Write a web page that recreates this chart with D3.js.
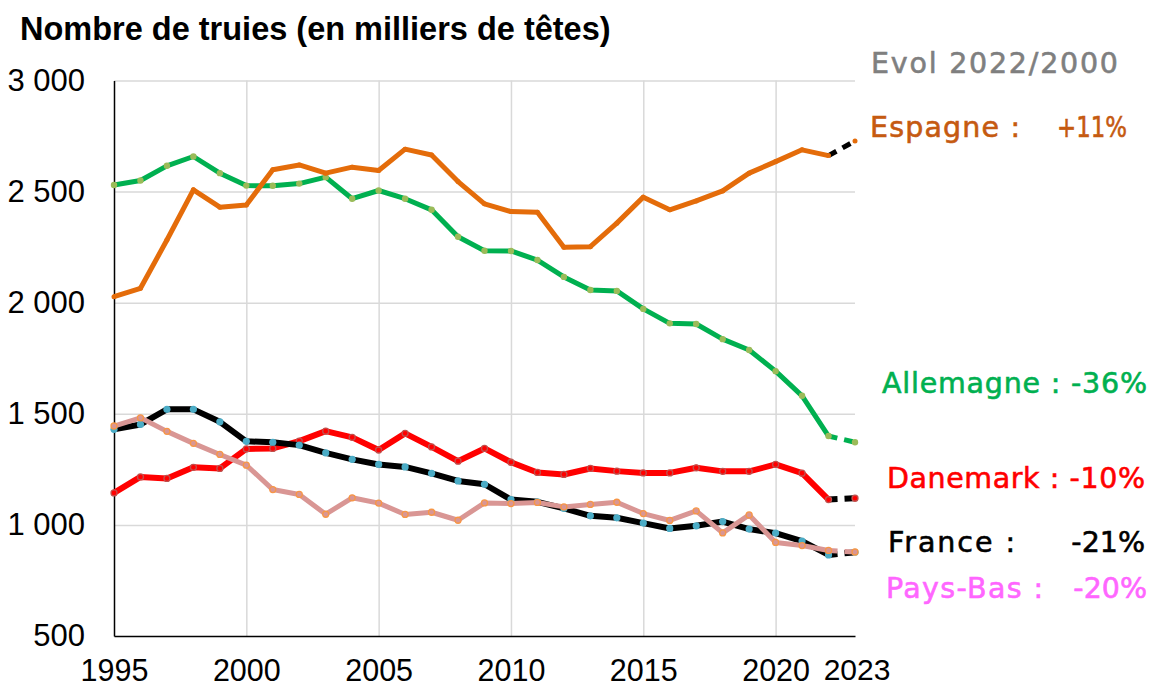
<!DOCTYPE html>
<html>
<head>
<meta charset="utf-8">
<script src="https://cdn.jsdelivr.net/npm/d3@7"></script>
<style>
  body { margin: 0; background: #fff; }
  svg { display: block; }
</style>
</head>
<body>
<svg id="chart" width="1155" height="688"></svg>
<script>
const years = [1995, 1996, 1997, 1998, 1999, 2000, 2001, 2002, 2003, 2004, 2005, 2006, 2007, 2008, 2009,
  2010, 2011, 2012, 2013, 2014, 2015, 2016, 2017, 2018, 2019, 2020, 2021, 2022, 2023];

const allemagne = [2530, 2550, 2616, 2658, 2583, 2527, 2526, 2536, 2565, 2468, 2505, 2468, 2418, 2297, 2234,
  2233, 2192, 2116, 2057, 2053, 1972, 1907, 1904, 1836, 1787, 1692, 1581, 1400, 1372];
const espagne = [2027, 2065, 2282, 2508, 2430, 2440, 2598, 2620, 2583, 2610, 2595, 2691, 2665, 2545, 2445,
  2410, 2407, 2250, 2252, 2358, 2475, 2418, 2458, 2503, 2583, 2635, 2688, 2662, 2728];
const danemark = [1144, 1216, 1209, 1259, 1254, 1342, 1344, 1377, 1422, 1394, 1337, 1412, 1351, 1287, 1344,
  1282, 1236, 1227, 1254, 1242, 1234, 1234, 1257, 1241, 1241, 1272, 1233, 1114, 1120];
const france = [1430, 1452, 1520, 1520, 1464, 1376, 1372, 1359, 1324, 1295, 1272, 1261, 1232, 1198, 1183,
  1114, 1104, 1074, 1041, 1032, 1008, 984, 996, 1015, 981, 963, 927, 865, 877];
const paysBas = [1445, 1482, 1421, 1367, 1317, 1269, 1159, 1137, 1048, 1122, 1098, 1047, 1057, 1021, 1099,
  1096, 1101, 1081, 1092, 1102, 1051, 1020, 1063, 964, 1045, 921, 907, 885, 878];

const yTicks = [500, 1000, 1500, 2000, 2500, 3000];
const xTicks = [1995, 2000, 2005, 2010, 2015, 2020];
const lastTick = 2023;

const title = "Nombre de truies (en milliers de têtes)";
const evolTitle = "Evol 2022/2000";
const labelNames = ["Espagne :", "Allemagne :", "Danemark :", "France :", "Pays-Bas :"];
const labelPcts = ["+11%", "-36%", "-10%", "-21%", "-20%"];

const series = [
  { name: "Allemagne", values: allemagne, line: "#00b050", marker: "#9bbb59", stroke: "none", r: 3.2, w: 5, tail: "#00b050" },
  { name: "Espagne", values: espagne, line: "#e46c0a", marker: "#e46c0a", stroke: "none", r: 2.5, w: 5, tail: "#000" },
  { name: "Danemark", values: danemark, line: "#ff0000", marker: "#ff0000", stroke: "#c0504d", r: 3, w: 6, tail: "#000" },
  { name: "France", values: france, line: "#000", marker: "#4bacc6", stroke: "none", r: 3.6, w: 6, tail: "#000" },
  { name: "Pays-Bas", values: paysBas, line: "#d99694", marker: "#d99694", stroke: "#f79646", r: 3, w: 5, tail: "#d99694" }
];

// label placement (name part and percent part)
const labelStyle = [
  { color: "#c55a11", y: 137, x0: 870, len0: 150, x1: 1127, len1: 70 },
  { color: "#00b050", y: 393, x0: 882, len0: 265 },
  { color: "#ff0000", y: 488, x0: 887, len0: 258 },
  { color: "#000000", y: 552, x0: 888, len0: 127, x1: 1145 },
  { color: "#ff66ff", y: 598, x0: 886, len0: 157, x1: 1147 }
];

const margin = { top: 80.5, right: 300, bottom: 52, left: 114 };
const width = 1155, height = 688;

const svg = d3.select("#chart");

const x = d3.scaleLinear().domain([1995, 2023]).range([margin.left, 855]);
const y = d3.scaleLinear().domain([500, 3000]).range([height - margin.bottom, margin.top]);

const fmt = d3.formatLocale({ decimal: ",", thousands: " ", grouping: [3], currency: ["", "€"] }).format(",");

// grid
svg.append("g")
  .attr("transform", `translate(${margin.left},0)`)
  .call(d3.axisLeft(y).tickValues(yTicks.slice(1)).tickSize(-(x(2023) - margin.left)).tickFormat(""))
  .call((g) => g.select(".domain").remove())
  .selectAll("line").attr("stroke", "#d9d9d9").attr("stroke-width", 1.5);

svg.append("g")
  .attr("transform", `translate(0,${y(500)})`)
  .call(d3.axisBottom(x).tickValues(xTicks.slice(1)).tickSize(-(y(500) - y(3000))).tickFormat(""))
  .call((g) => g.select(".domain").remove())
  .selectAll("line").attr("stroke", "#d9d9d9").attr("stroke-width", 1.5);

// axes
const yAxis = svg.append("g")
  .attr("transform", `translate(${margin.left},0)`)
  .call(d3.axisLeft(y).tickValues(yTicks).tickSize(0).tickPadding(29).tickFormat(fmt));
yAxis.select(".domain").attr("stroke", "#000").attr("stroke-width", 1.5);
yAxis.selectAll("text")
  .attr("font-family", "Liberation Sans, Arial, sans-serif")
  .attr("font-size", 31)
  .attr("fill", "#000");

const xAxis = svg.append("g")
  .attr("transform", `translate(0,${y(500)})`)
  .call(d3.axisBottom(x).tickValues(xTicks).tickSize(0).tickFormat(d3.format("d")));
xAxis.select(".domain").attr("stroke", "#000").attr("stroke-width", 1.5);
xAxis.selectAll("text")
  .attr("y", 45)
  .attr("dy", 0)
  .attr("font-family", "Liberation Sans, Arial, sans-serif")
  .attr("font-size", 30.5)
  .attr("fill", "#000");

svg.append("text")
  .attr("x", x(lastTick) + 2)
  .attr("y", y(500) + 44)
  .attr("text-anchor", "middle")
  .attr("font-family", "Liberation Sans Narrow, Arial Narrow, sans-serif")
  .attr("font-size", 30)
  .text(lastTick);

// lines
const n = years.length;
const line = d3.line().x((d) => x(d[0])).y((d) => y(d[1]));

series.forEach((s) => {
  const pts = years.map((yr, k) => [yr, s.values[k]]);
  svg.append("path")
    .attr("d", line(pts.slice(0, n - 1)))
    .attr("fill", "none")
    .attr("stroke", s.line)
    .attr("stroke-width", s.w)
    .attr("stroke-linejoin", "round");
  svg.append("path")
    .attr("d", line(pts.slice(n - 2)))
    .attr("fill", "none")
    .attr("stroke", s.tail)
    .attr("stroke-width", s.w)
    .attr("stroke-dasharray", "9,7");
  svg.selectAll(null)
    .data(pts)
    .enter()
    .append("circle")
    .attr("cx", (d) => x(d[0]))
    .attr("cy", (d) => y(d[1]))
    .attr("r", s.r)
    .attr("fill", s.marker)
    .attr("stroke", s.stroke)
    .attr("stroke-width", 1.3);
});

// titles
svg.append("text")
  .attr("x", 20)
  .attr("y", 40)
  .attr("font-family", "Liberation Sans, Arial, sans-serif")
  .attr("font-weight", "bold")
  .attr("font-size", 32.5)
  .text(title);

const labelFont = (sel, color) => sel
  .attr("font-family", "DejaVu Sans, sans-serif")
  .attr("font-size", 28.5)
  .attr("fill", color)
  .attr("stroke", color)
  .attr("stroke-width", 0.6);

svg.append("text")
  .attr("x", 871)
  .attr("y", 73)
  .attr("textLength", 247)
  .attr("lengthAdjust", "spacing")
  .call(labelFont, "#7f7f7f")
  .text(evolTitle);

labelNames.forEach((name, i) => {
  const st = labelStyle[i];
  const single = st.x1 === undefined;
  svg.append("text")
    .attr("x", st.x0)
    .attr("y", st.y)
    .attr("textLength", st.len0)
    .attr("lengthAdjust", "spacing")
    .call(labelFont, st.color)
    .text(single ? `${name} ${labelPcts[i]}` : name);
  if (!single) {
    const pct = svg.append("text")
      .attr("x", st.x1)
      .attr("y", st.y)
      .attr("text-anchor", "end")
      .call(labelFont, st.color)
      .text(labelPcts[i]);
    if (st.len1) pct.attr("textLength", st.len1).attr("lengthAdjust", "spacingAndGlyphs");
  }
});
</script>
</body>
</html>
